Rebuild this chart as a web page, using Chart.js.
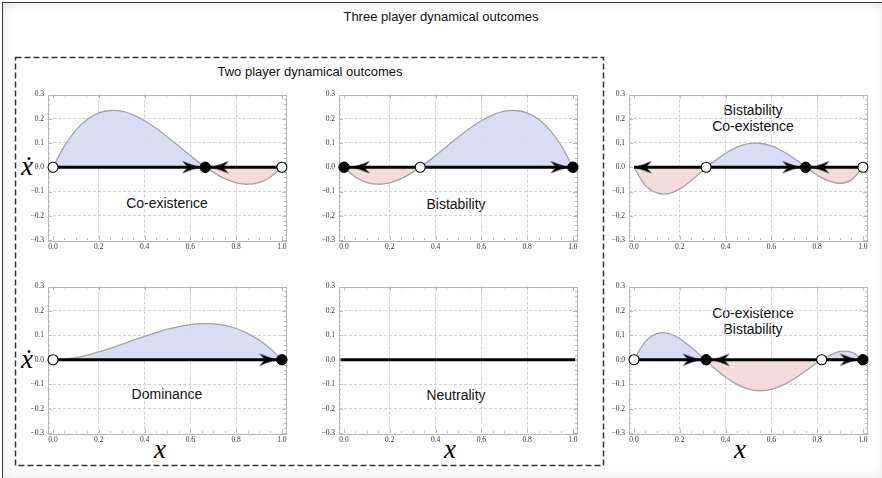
<!DOCTYPE html>
<html><head><meta charset="utf-8">
<script src="https://cdn.jsdelivr.net/npm/chart.js@4.4.1/dist/chart.umd.min.js"></script>
<style>
html,body{margin:0;padding:0;}
body{width:882px;height:478px;background:#fff;overflow:hidden;position:relative;font-family:"Liberation Sans",Arial,sans-serif;}
#frame{position:absolute;left:2px;top:2px;width:882px;height:476px;border-left:1.5px solid #3a3a3a;border-top:1.5px solid #3a3a3a;box-shadow:inset 0 0 12px rgba(0,0,0,0.13);background:#fff;}
#dash{position:absolute;left:0;top:0;}
.t{position:absolute;transform:translate(-50%,-50%);white-space:nowrap;color:#111;font-size:14px;line-height:16px;text-align:center;}
.m{position:absolute;transform:translate(-50%,-50%);font-family:"Liberation Serif","Times New Roman",serif;font-style:italic;color:#000;}
canvas{position:absolute;}
</style>
</head><body>
<div id="frame"></div>
<svg id="dash" width="882" height="478"><rect x="15.5" y="57.5" width="588" height="408" fill="none" stroke="#333" stroke-width="1.5" stroke-dasharray="6 3"/></svg>
<div class="t" style="left:441px;top:17px;font-size:13px;">Three player dynamical outcomes</div>
<div class="t" style="left:310px;top:72px;font-size:13px;">Two player dynamical outcomes</div>

<div class="t" style="left:167px;top:203px;">Co-existence</div>
<div class="t" style="left:456px;top:204px;">Bistability</div>
<div class="t" style="left:753px;top:118px;">Bistability<br>Co-existence</div>
<div class="t" style="left:167px;top:394px;">Dominance</div>
<div class="t" style="left:456px;top:395px;">Neutrality</div>
<div class="t" style="left:753px;top:321px;">Co-existence<br>Bistability</div>

<div class="m" style="left:27px;top:166px;font-size:27px;">ẋ</div>
<div class="m" style="left:27px;top:359px;font-size:27px;">ẋ</div>
<div class="m" style="left:160px;top:449px;font-size:27px;">x</div>
<div class="m" style="left:450px;top:449px;font-size:27px;">x</div>
<div class="m" style="left:740px;top:449px;font-size:27px;">x</div>

<canvas id="c1" width="280" height="170" style="left:14px;top:86px;"></canvas>
<canvas id="c2" width="280" height="170" style="left:305px;top:86px;"></canvas>
<canvas id="c3" width="280" height="170" style="left:595px;top:86px;"></canvas>
<canvas id="c4" width="280" height="171" style="left:14px;top:278px;"></canvas>
<canvas id="c5" width="280" height="171" style="left:305px;top:278px;"></canvas>
<canvas id="c6" width="280" height="171" style="left:595px;top:278px;"></canvas>

<script>
// ---------- data ----------
const xs = [0,0.05,0.1,0.15,0.2,0.25,0.3,0.35,0.4,0.45,0.5,0.55,0.6,0.65,0.7,0.75,0.8,0.85,0.9,0.95,1];
const coexistence   = [0,0.088,0.153,0.198,0.224,0.234,0.231,0.216,0.192,0.161,0.125,0.087,0.048,0.011,-0.021,-0.047,-0.064,-0.070,-0.063,-0.040,0];
const bistability   = [0,-0.040,-0.063,-0.070,-0.064,-0.047,-0.021,0.011,0.048,0.087,0.125,0.161,0.192,0.216,0.231,0.234,0.224,0.198,0.153,0.088,0];
const bistabCoexist = [0,-0.076,-0.106,-0.109,-0.089,-0.055,-0.014,0.024,0.058,0.083,0.097,0.099,0.088,0.066,0.036,0.000,-0.032,-0.056,-0.066,-0.052,0];
const dominance     = [0,0.002,0.009,0.019,0.032,0.047,0.063,0.080,0.096,0.111,0.125,0.136,0.144,0.148,0.147,0.141,0.128,0.108,0.081,0.045,0];
const coexistBistab = [0,0.075,0.107,0.108,0.086,0.051,0.009,-0.034,-0.072,-0.101,-0.120,-0.127,-0.121,-0.104,-0.078,-0.046,-0.012,0.016,0.034,0.031,0];

const yTickValues = [-0.3,-0.2,-0.1,0,0.1,0.2,0.3];
const yTickLabels = ['\u22120.3','\u22120.2','\u22120.1','0.0','0.1','0.2','0.3'];
const xTickValues = [0,0.2,0.4,0.6,0.8,1];
const xTickLabels = ['0.0','0.2','0.4','0.6','0.8','1.0'];

// fixed points and flow arrows (x positions on the x axis)
const p1Unstable=[0,1],      p1Stable=[0.665],     p1Right=[0.642],       p1Left=[0.69];
const p2Unstable=[0.333],    p2Stable=[0,1],       p2Right=[0.98],        p2Left=[0.035];
const p3Unstable=[0.315,1],  p3Stable=[0.75],      p3Right=[0.726],       p3Left=[0,0.776];
const p4Unstable=[0],        p4Stable=[1],         p4Right=[0.979],       p4Left=[];
const p6Unstable=[0,0.82],   p6Stable=[0.315,1],   p6Right=[0.29,0.977],  p6Left=[0.34];
const flowLine=[0,1];
const neutralLine=[-0.015,1.01];

// ---------- drawing ----------
function arrowImage(){
  const c=document.createElement('canvas'); c.width=40; c.height=14;
  const g=c.getContext('2d'); g.fillStyle='#000'; g.beginPath();
  g.moveTo(20,7);
  g.quadraticCurveTo(11,4.6,2,0.8);
  g.quadraticCurveTo(6,5,8,7);
  g.quadraticCurveTo(6,9,2,13.2);
  g.quadraticCurveTo(11,9.4,20,7);
  g.closePath(); g.fill();
  return c;
}
const ARROW=arrowImage();
const pts = a => a.map(v=>({x:v,y:0}));
const curvePts = ys => xs.map((x,i)=>({x:x,y:ys[i]}));

const framePlugin={
  id:'frame',
  beforeDatasetsDraw(chart){
    const {ctx,chartArea:a,scales}=chart;
    ctx.save();
    ctx.strokeStyle='#b5b5b5'; ctx.lineWidth=1;
    ctx.strokeRect(Math.round(a.left)+0.5,Math.round(a.top)+0.5,Math.round(a.right-a.left),Math.round(a.bottom-a.top));
    ctx.strokeStyle='#bdbdbd';
    for(let i=0;i<=20;i++){
      const v=i*0.05, px=Math.round(scales.x.getPixelForValue(v))+0.5, L=(i%4===0)?4:2;
      ctx.beginPath();ctx.moveTo(px,a.bottom);ctx.lineTo(px,a.bottom-L);ctx.moveTo(px,a.top);ctx.lineTo(px,a.top+L);ctx.stroke();
    }
    for(let i=-15;i<=15;i++){
      const v=i*0.02, py=Math.round(scales.y.getPixelForValue(v))+0.5, L=(i%5===0)?4:2;
      ctx.beginPath();ctx.moveTo(a.left,py);ctx.lineTo(a.left+L,py);ctx.moveTo(a.right,py);ctx.lineTo(a.right-L,py);ctx.stroke();
    }
    ctx.restore();
  }
};

function makeChart(id, curve, unstable, stable, right, left, line){
  const ds=[];
  ds.push({data:pts(unstable),showLine:false,pointStyle:'circle',pointRadius:5,pointBorderWidth:1.1,pointBackgroundColor:'#fff',pointBorderColor:'#000',clip:false});
  ds.push({data:pts(stable),showLine:false,pointStyle:'circle',pointRadius:5.2,pointBorderWidth:1,pointBackgroundColor:'#000',pointBorderColor:'#000',clip:false});
  ds.push({data:pts(right),showLine:false,pointStyle:ARROW,pointRadius:5,rotation:0,clip:false});
  ds.push({data:pts(left),showLine:false,pointStyle:ARROW,pointRadius:5,rotation:180,clip:false});
  ds.push({data:pts(line),borderColor:'#000',borderWidth:3,pointRadius:0,fill:false});
  if(curve){
    ds.push({data:curvePts(curve),borderColor:'#a3a3a3',borderWidth:1.3,pointRadius:0,tension:0.4,
      fill:{target:'origin',above:'rgba(213,216,242,0.9)',below:'rgba(241,216,216,0.9)'}});
  }
  return new Chart(document.getElementById(id),{
    type:'line',
    data:{datasets:ds},
    plugins:[framePlugin],
    options:{
      responsive:false,animation:false,devicePixelRatio:1,
      layout:{padding:{top:8,right:8,bottom:0,left:0}},
      plugins:{legend:{display:false},tooltip:{enabled:false}},
      scales:{
        x:{type:'linear',min:-0.022,max:1.018,
          afterBuildTicks:s=>{s.ticks=xTickValues.map(v=>({value:v}));},
          afterFit:s=>{s.height=16;},
          ticks:{autoSkip:false,maxRotation:0,padding:3,color:'#333',font:{family:'"Liberation Serif", serif',size:7.5},
            callback:(v)=>{const i=xTickValues.indexOf(v);return i>=0?xTickLabels[i]:'';}},
          grid:{drawTicks:false,lineWidth:0.8,color:c=>(c.tick&&(c.tick.value===0||c.tick.value===1))?'rgba(0,0,0,0)':'#c8c8c8'},
          border:{display:false,dash:[3,2]}},
        y:{type:'linear',min:-0.3,max:0.3,
          afterBuildTicks:s=>{s.ticks=yTickValues.map(v=>({value:v}));},
          afterFit:s=>{s.width=34;},
          ticks:{autoSkip:false,padding:4,color:'#333',font:{family:'"Liberation Serif", serif',size:7.5},
            callback:(v)=>{const i=yTickValues.indexOf(v);return i>=0?yTickLabels[i]:'';}},
          grid:{drawTicks:false,lineWidth:0.8,color:c=>(c.tick&&Math.abs(c.tick.value)===0.3)?'rgba(0,0,0,0)':'#c8c8c8'},
          border:{display:false,dash:[3,2]}}
      }
    }
  });
}

makeChart('c1',coexistence,p1Unstable,p1Stable,p1Right,p1Left,flowLine);
makeChart('c2',bistability,p2Unstable,p2Stable,p2Right,p2Left,flowLine);
makeChart('c3',bistabCoexist,p3Unstable,p3Stable,p3Right,p3Left,flowLine);
makeChart('c4',dominance,p4Unstable,p4Stable,p4Right,p4Left,flowLine);
makeChart('c5',null,[],[],[],[],neutralLine);
makeChart('c6',coexistBistab,p6Unstable,p6Stable,p6Right,p6Left,flowLine);
</script>
</body></html>
